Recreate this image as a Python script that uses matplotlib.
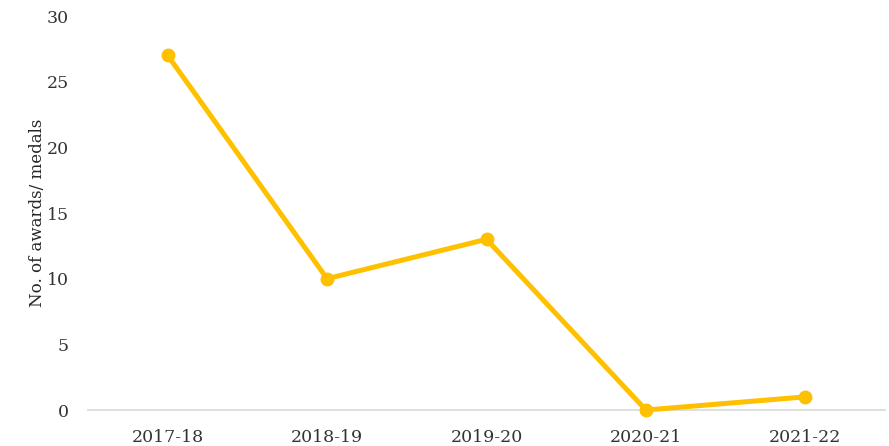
import matplotlib
matplotlib.use("Agg")
import matplotlib.pyplot as plt

# data
years = ["2017-18", "2018-19", "2019-20", "2020-21", "2021-22"]
awards = [27, 10, 13, 0, 1]
y_ticks = [0, 5, 10, 15, 20, 25, 30]

plt.rcParams['font.family'] = ['DejaVu Serif']

fig = plt.figure(figsize=(8.89, 4.46), dpi=100)
ax = fig.add_axes([0.099, 0.0807, 0.8965, 0.8833])

ax.plot(range(len(years)), awards, color='#FFC000', linewidth=3.6,
        marker='o', markersize=9, clip_on=False, zorder=3)

ax.set_xlim(-0.5, len(years) - 0.5)
ax.set_ylim(0, 30)
ax.set_xticks(range(len(years)))
ax.set_xticklabels(years)
ax.set_yticks(y_ticks)

for side in ['top', 'right', 'left']:
    ax.spines[side].set_visible(False)
ax.spines['bottom'].set_color('#d9d9d9')
ax.spines['bottom'].set_linewidth(1.2)
ax.tick_params(length=0, labelsize=12.5, colors='#333333')
ax.tick_params(axis='x', pad=14)
ax.tick_params(axis='y', pad=14)

ax.set_ylabel("No. of awards/ medals", fontsize=12, color='#262626', labelpad=0)

fig.savefig("out.png", dpi=100)
